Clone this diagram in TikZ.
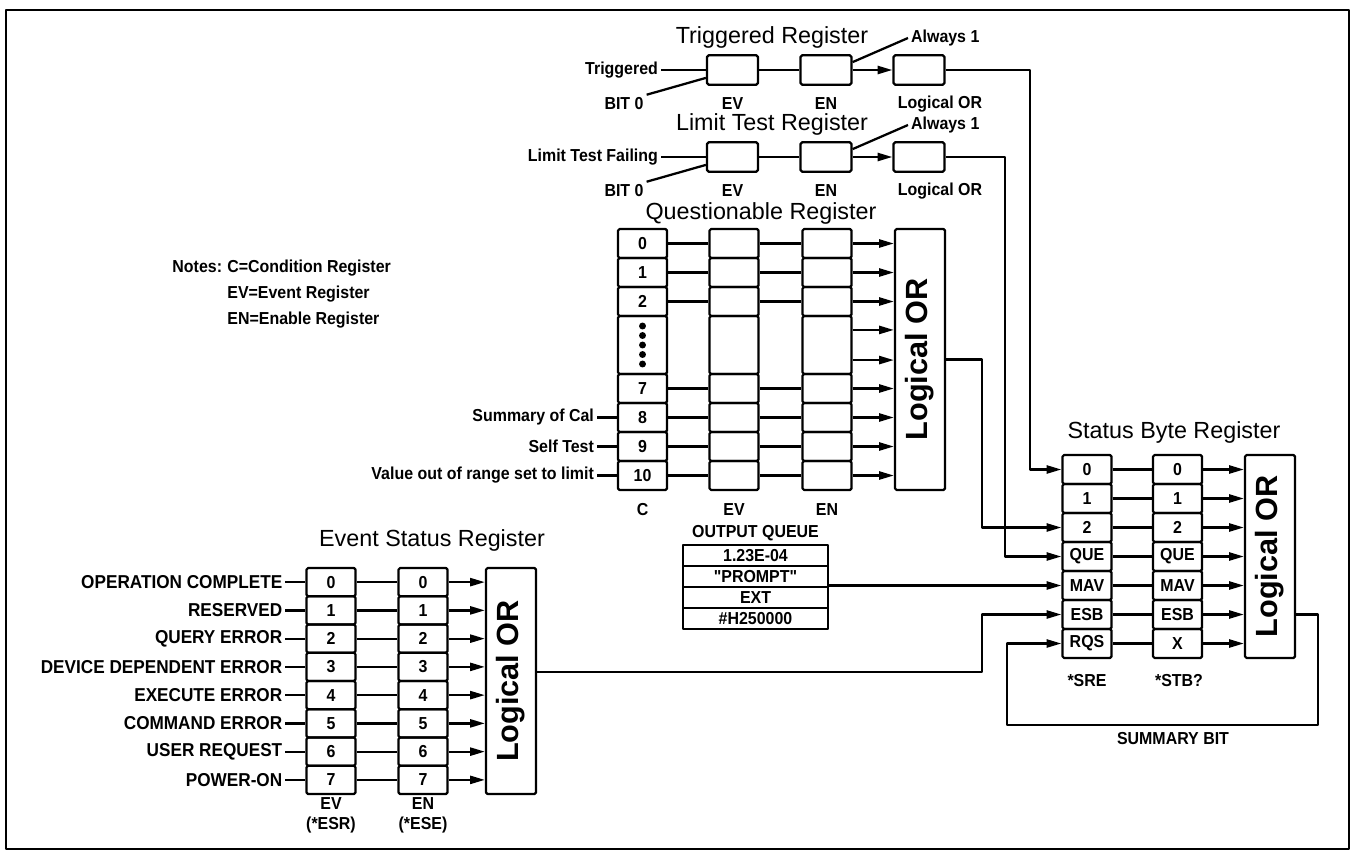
\documentclass[tikz,border=0pt]{standalone}
\usepackage{fontspec}
\setmainfont{Liberation Sans}
\newfontfamily\lblfont[FakeStretch=0.92]{Liberation Sans}
\usetikzlibrary{arrows.meta,calc}
\begin{document}
\begin{tikzpicture}[x=0.75pt,y=-0.75pt,line width=1.7pt,line join=round,
 box/.style={draw,rounded corners=1.2pt,inner sep=0pt,font=\lblfont\bfseries\fontsize{13}{15}\selectfont},
 qcell/.style={box,minimum width=36.75pt,minimum height=21.75pt},
 tcell/.style={box,minimum width=38.25pt,minimum height=22pt},
 ecell/.style={box,minimum width=36.75pt,minimum height=21.19pt},
 ocell/.style={box,rounded corners=0pt,minimum width=108.75pt,minimum height=15.75pt},
 lorbox/.style={box,minimum width=37.5pt,font=\bfseries\fontsize{23}{25}\selectfont},
 lbl/.style={inner sep=1.5pt,font=\lblfont\bfseries\fontsize{13}{15}\selectfont},
 elbl/.style={inner sep=1.5pt,font=\lblfont\bfseries\fontsize{14}{16}\selectfont},
 slbl/.style={inner sep=1.5pt,font=\lblfont\bfseries\fontsize{13}{15}\selectfont},
 ttl/.style={inner sep=0pt,font=\fontsize{17.5}{20}\selectfont},
 arr/.style={-{Triangle[length=11pt,width=6pt]}}
]
\useasboundingbox (0,0) rectangle (1355,853);
\draw[line width=1.4pt] (6,10) rectangle (1349,849);

% ---------- Triggered register
\node[ttl] (ttitle) at (772,37) {Triggered Register};
\node[tcell] (tev) at (732.5,70) {};
\node[tcell] (ten) at (826,70) {};
\node[tcell] (tor) at (919,70) {};
\node[slbl,anchor=east] (ttxt) at (661,70) {Triggered};
\node[slbl] (tbit) at (624,104) {BIT 0};
\node[slbl,anchor=west] (talw) at (908,38) {Always 1};
\node[slbl] (tevl) at (732.5,104) {EV};
\node[slbl] (tenl) at (826,104) {EN};
\node[slbl] (torl) at (940,104) {Logical OR};
\draw (ttxt) -- (tev);
\draw (tev) -- (ten);
\draw[arr] (ten) -- (tor);
\draw (tbit.north east) -- ($(tev.west)!0.5!(tev.south west)$);
\draw (talw.west) -- ($(ten.east)!0.5!(ten.north east)$);

% ---------- Limit test register
\node[ttl] (ltitle) at (772,124) {Limit Test Register};
\node[tcell] (lev) at (732.5,157) {};
\node[tcell] (len) at (826,157) {};
\node[tcell] (lor) at (919,157) {};
\node[slbl,anchor=east] (ltxt) at (661,157) {Limit Test Failing};
\node[slbl] (lbit) at (624,191) {BIT 0};
\node[slbl,anchor=west] (lalw) at (908,125) {Always 1};
\node[slbl] (levl) at (732.5,191) {EV};
\node[slbl] (lenl) at (826,191) {EN};
\node[slbl] (lorl) at (940,191) {Logical OR};
\draw (ltxt) -- (lev);
\draw (lev) -- (len);
\draw[arr] (len) -- (lor);
\draw (lbit.north east) -- ($(lev.west)!0.5!(lev.south west)$);
\draw (lalw.west) -- ($(len.east)!0.5!(len.north east)$);

% ---------- Notes
\node[lbl,anchor=north east,inner sep=0pt,align=left] (notes) at (392,257)
  {\begin{tabular}{@{}l@{}l@{}}Notes:\hspace{4pt} & C=Condition Register\\[4.5pt] & EV=Event Register\\[4.5pt] & EN=Enable Register\end{tabular}};

% ---------- Questionable register
\node[ttl] (qtitle) at (761,213) {Questionable Register};
\foreach \i/\t in {0/0,1/1,2/2,5/7,6/8,7/9,8/10}{
  \node[qcell] (qc\i) at (642.5,{243.5+29*\i}) {\t};
  \node[qcell] (qv\i) at (734,{243.5+29*\i}) {};
  \node[qcell] (qn\i) at (827,{243.5+29*\i}) {};
  \draw (qc\i) -- (qv\i);
  \draw (qv\i) -- (qn\i);
}
\node[qcell,minimum height=43.5pt] (qcd) at (642.5,345) {};
\node[qcell,minimum height=43.5pt] (qvd) at (734,345) {};
\node[qcell,minimum height=43.5pt] (qnd) at (827,345) {};
\foreach \k in {0,...,4}{\fill (642.5,{326+9.5*\k}) circle (2.6pt);}
\node[lorbox,minimum height=195.75pt] (qor) at (920,359.5) {\rotatebox{90}{Logical OR}};
\foreach \i in {0,1,2,5,6,7,8}{\draw[arr] (qn\i) -- (qn\i -| qor.west);}
\draw[arr] ($(qnd.north east)!0.25!(qnd.south east)$) coordinate (qd1) -- (qd1 -| qor.west);
\draw[arr] ($(qnd.north east)!0.75!(qnd.south east)$) coordinate (qd2) -- (qd2 -| qor.west);
\node[lbl,anchor=east] (qs8) at (597,417.5) {Summary of Cal};
\node[lbl,anchor=east] (qs9) at (597,446.5) {Self Test};
\node[lbl,anchor=east] (qs10) at (597,475.5) {Value out of range set to limit};
\draw (qs8) -- (qc6);
\draw (qs9) -- (qc7);
\draw (qs10) -- (qc8);
\node[lbl] (qcl) at (642.5,510) {C};
\node[lbl] (qvl) at (734,510) {EV};
\node[lbl] (qnl) at (827,510) {EN};

% ---------- Output queue
\node[lbl] (oqt) at (755.5,533) {OUTPUT QUEUE};
\node[ocell] (oq1) at (755.5,555.5) {1.23E-04};
\node[ocell] (oq2) at (755.5,576.5) {"PROMPT"};
\node[ocell] (oq3) at (755.5,597.5) {EXT};
\node[ocell] (oq4) at (755.5,618.5) {\#H250000};

% ---------- Status byte register
\node[ttl] (stitle) at (1174,432) {Status Byte Register};
\foreach \i/\a/\b in {0/0/0,1/1/1,2/2/2,3/QUE/QUE,4/MAV/MAV,5/ESB/ESB,6/RQS/X}{
  \node[qcell] (sa\i) at (1087,{469.5+29*\i}) {\a};
  \node[qcell] (sb\i) at (1177.5,{469.5+29*\i}) {\b};
  \draw (sa\i) -- (sb\i);
}
\node[lorbox,minimum height=152.25pt] (sor) at (1270,556.5) {\rotatebox{90}{Logical OR}};
\foreach \i in {0,...,6}{\draw[arr] (sb\i) -- (sb\i -| sor.west);}
\node[lbl] (ssre) at (1087,681) {*SRE};
\node[lbl] (sstb) at (1179,681) {*STB?};
\node[lbl] (ssum) at (1173,739) {SUMMARY BIT};

% ---------- Event status register
\node[ttl] (etitle) at (432,540) {Event Status Register};
\foreach \i/\t in {0/OPERATION COMPLETE,1/RESERVED,2/QUERY ERROR,3/DEVICE DEPENDENT ERROR,4/EXECUTE ERROR,5/COMMAND ERROR,6/USER REQUEST,7/POWER-ON}{
  \node[ecell] (ev\i) at (331,{582.125+28.25*\i}) {\i};
  \node[ecell] (en\i) at (423,{582.125+28.25*\i}) {\i};
  \node[elbl,anchor=east] (et\i) at ($(ev\i.west)+(-20,0)$) {\t};
  \draw (et\i) -- (ev\i);
  \draw (ev\i) -- (en\i);
}
\node[lorbox,minimum height=169.5pt] (eor) at (511,681) {\rotatebox{90}{Logical OR}};
\foreach \i in {0,...,7}{\draw[arr] (en\i) -- (en\i -| eor.west);}
\node[lbl,align=center] (evl) at (331,815) {EV\\(*ESR)};
\node[lbl,align=center] (enl) at (423,815) {EN\\(*ESE)};

% ---------- connectors to the status byte
\coordinate (tbus) at (1030,0);
\coordinate (lbus) at (1005,0);
\coordinate (qbus) at (982,0);
\draw[arr] (tor) -- (tor.east -| tbus) |- (sa0);
\draw[arr] (lor) -- (lor.east -| lbus) |- (sa3);
\draw[arr] (qor) -- (qor.east -| qbus) |- (sa2);
\draw[arr] (sa4 -| oq2.east) -- (sa4);
\coordinate (eout) at ($(eor.east)+(0,-9)$);
\draw[arr] (eout) -- (eout -| qbus) |- (sa5);
\coordinate (sumR) at (1318,725);
\coordinate (sumL) at (1007,725);
\draw[arr] (sor.east |- sb5) -| (sumR) -- (sumL) |- (sa6);
\end{tikzpicture}
\end{document}
